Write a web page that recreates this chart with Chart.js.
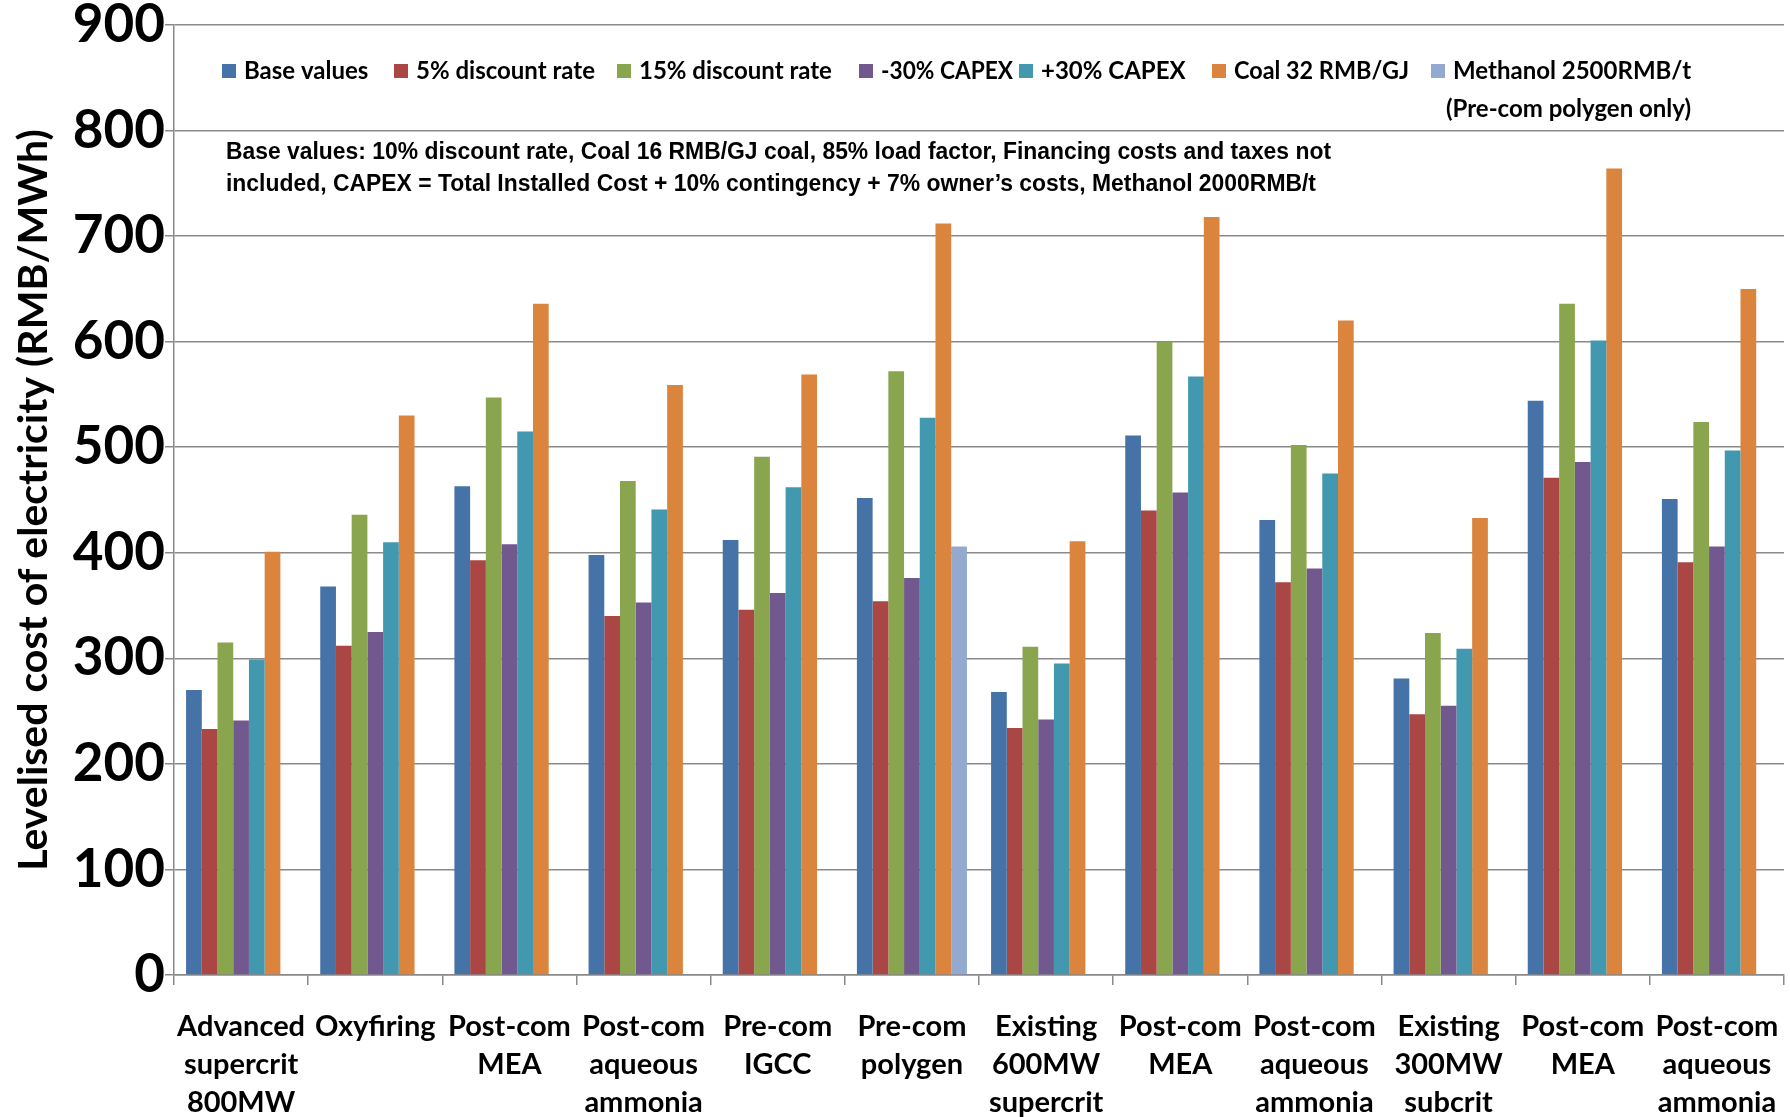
<!DOCTYPE html>
<html>
<head>
<meta charset="utf-8">
<title>Levelised cost of electricity</title>
<script src="https://cdn.jsdelivr.net/npm/chart.js@4.4.0/dist/chart.umd.min.js"></script>
<style>
  html, body { margin: 0; padding: 0; background: #ffffff; }
  #wrap { width: 1790px; height: 1117px; position: relative; }
</style>
</head>
<body>
<div id="wrap"><canvas id="lcoe" width="1790" height="1117"></canvas></div>
<script>
// Plant / capture configurations (one group of bars each)
const categories = [
  ['Advanced', 'supercrit', '800MW'],
  ['Oxyfiring'],
  ['Post-com', 'MEA'],
  ['Post-com', 'aqueous', 'ammonia'],
  ['Pre-com', 'IGCC'],
  ['Pre-com', 'polygen'],
  ['Existing', '600MW', 'supercrit'],
  ['Post-com', 'MEA'],
  ['Post-com', 'aqueous', 'ammonia'],
  ['Existing', '300MW', 'subcrit'],
  ['Post-com', 'MEA'],
  ['Post-com', 'aqueous', 'ammonia']
];

// Sensitivity cases (RMB/MWh)
const seriesNames = [
  'Base values',
  '5% discount rate',
  '15% discount rate',
  '-30% CAPEX',
  '+30% CAPEX',
  'Coal 32 RMB/GJ',
  ['Methanol 2500RMB/t', '(Pre-com polygen only)']
];
const baseValues    = [270, 368, 463, 398, 412, 452, 268, 511, 431, 281, 544, 451];
const discount5     = [233, 312, 393, 340, 346, 354, 234, 440, 372, 247, 471, 391];
const discount15    = [315, 436, 547, 468, 491, 572, 311, 600, 502, 324, 636, 524];
const capexMinus30  = [241, 325, 408, 353, 362, 376, 242, 457, 385, 255, 486, 406];
const capexPlus30   = [299, 410, 515, 441, 462, 528, 295, 567, 475, 309, 601, 497];
const coal32        = [401, 530, 636, 559, 569, 712, 411, 718, 620, 433, 764, 650];
const methanol2500  = [null, null, null, null, null, 406, null, null, null, null, null, null];

const yTicks = { min: 0, max: 900, step: 100 };

const noteLines = [
  'Base values: 10% discount rate, Coal 16 RMB/GJ coal, 85% load factor, Financing costs and taxes not',
  'included, CAPEX = Total Installed Cost + 10% contingency + 7% owner\u2019s costs, Methanol 2000RMB/t'
];

const colors = ['#4572A7', '#AA4643', '#89A54E', '#71588F', '#4198AF', '#DB843D', '#93A9CF'];
const seriesData = [baseValues, discount5, discount15, capexMinus30, capexPlus30, coal32, methanol2500];

const gridGrey = '#8a8a8a';

// Legend drawn in the upper part of the plot area
const legendPlugin = {
  id: 'topLegend',
  afterDraw(chart) {
    const ctx = chart.ctx;
    const boxX = [222, 394, 617, 859, 1019, 1212, 1431];
    const textW = [126, 186, 196, 132, 156, 175, 240];
    const rowY = 71, lineGap = 38, box = 14;
    ctx.save();
    ctx.font = 'bold 24px Lato';
    ctx.textBaseline = 'middle';
    chart.data.datasets.forEach((ds, i) => {
      ctx.fillStyle = ds.backgroundColor;
      ctx.fillRect(boxX[i], rowY - box / 2, box, box);
      ctx.fillStyle = '#000';
      const lines = Array.isArray(ds.label) ? ds.label : [ds.label];
      const tx = boxX[i] + box + 8;
      ctx.textAlign = 'left';
      ctx.fillText(lines[0], tx, rowY, textW[i]);
      // continuation lines end where the first line ends
      const endX = tx + Math.min(ctx.measureText(lines[0]).width, textW[i]);
      ctx.textAlign = 'right';
      for (let k = 1; k < lines.length; k++) {
        ctx.fillText(lines[k], endX, rowY + lineGap * k);
      }
    });
    ctx.restore();
  }
};

// Note on the base-case assumptions
const notePlugin = {
  id: 'assumptionNote',
  afterDraw(chart) {
    const ctx = chart.ctx;
    ctx.save();
    ctx.font = 'bold 23px "Liberation Sans Narrow", "Liberation Sans", Arial, sans-serif';
    ctx.fillStyle = '#000';
    ctx.textBaseline = 'middle';
    ctx.textAlign = 'left';
    const widths = [1105, 1090];
    noteLines.forEach((t, i) => {
      ctx.fillText(t, 226, 153 + i * 32, widths[i]);
    });
    ctx.restore();
  }
};

new Chart(document.getElementById('lcoe'), {
  type: 'bar',
  data: {
    labels: categories,
    datasets: seriesData.map((d, i) => ({
      label: seriesNames[i],
      data: d,
      backgroundColor: colors[i],
      borderWidth: 0,
      categoryPercentage: 0.82,
      barPercentage: 1.0
    }))
  },
  options: {
    responsive: false,
    animation: false,
    devicePixelRatio: 1,
    layout: { padding: { left: 0, right: 6, top: 25, bottom: 0 } },
    plugins: {
      legend: { display: false },
      tooltip: { enabled: false }
    },
    scales: {
      x: {
        offset: true,
        grid: { display: true, drawOnChartArea: false, offset: true, color: gridGrey, lineWidth: 1.5, tickLength: 10 },
        border: { color: gridGrey, width: 1.5 },
        ticks: {
          font: { family: 'Lato', weight: 'bold', size: 29, lineHeight: 1.3 },
          color: '#000',
          padding: 23,
          maxRotation: 0,
          minRotation: 0,
          autoSkip: false
        },
        afterFit(scale) {
          scale.height = 142;
          scale.paddingLeft = 0;
          scale.paddingRight = 0;
        }
      },
      y: {
        min: yTicks.min,
        max: yTicks.max,
        grid: { color: gridGrey, lineWidth: 1.5, tickLength: 9 },
        border: { color: gridGrey, width: 1.5 },
        ticks: {
          stepSize: yTicks.step,
          font: { family: 'Lato', weight: 'bold', size: 53, lineHeight: 0.94 },
          color: '#000',
          padding: 0
        },
        title: {
          display: true,
          text: 'Levelised cost of electricity (RMB/MWh)',
          font: { family: 'Lato', weight: 'bold', size: 41 },
          color: '#000',
          padding: { top: 9, bottom: 0 }
        },
        afterFit(scale) {
          scale.width = 174;
          scale.paddingTop = 0;
        }
      }
    }
  },
  plugins: [legendPlugin, notePlugin]
});
</script>
</body>
</html>
